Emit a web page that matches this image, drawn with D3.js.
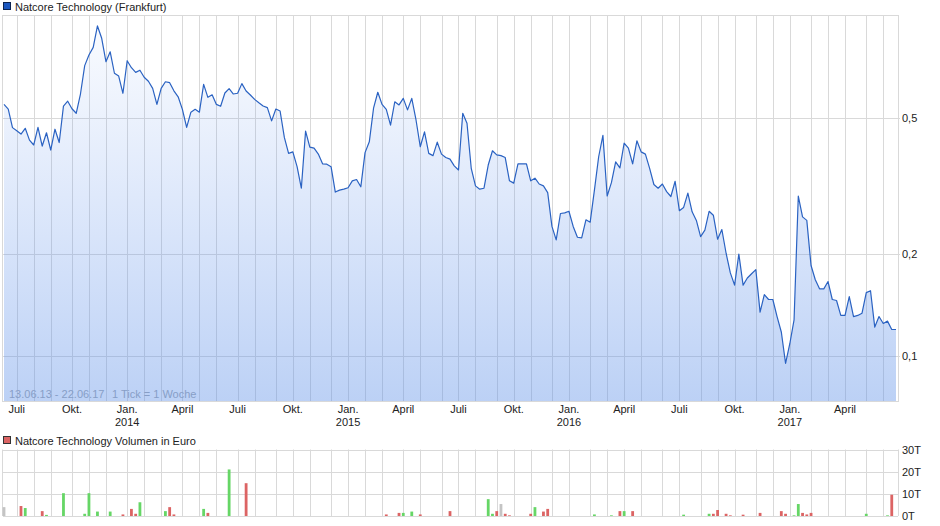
<!DOCTYPE html>
<html>
<head>
<meta charset="utf-8">
<script src="https://cdn.jsdelivr.net/npm/d3@7"></script>
<style>
  html, body { margin: 0; padding: 0; background: #fff; }
  svg { display: block; font-family: "Liberation Sans", Arial, sans-serif; }
</style>
</head>
<body>
<svg id="chart" width="940" height="526"></svg>
<script>
// ---------- DATA ----------
const seriesName = "Natcore Technology (Frankfurt)";
const volumeName = "Natcore Technology Volumen in Euro";
const rangeText = "13.06.13 - 22.06.17";
const tickText = "1 Tick = 1 Woche";
const firstWeek = "2013-06-13"; // weekly points (1 Tick = 1 Woche)

// weekly closing prices (EUR)
const prices = [
  0.550, 0.533, 0.470, 0.460, 0.450, 0.468, 0.432, 0.418, 0.471, 0.415,
  0.454, 0.404, 0.465, 0.425, 0.544, 0.562, 0.534, 0.518, 0.590, 0.715,
  0.768, 0.809, 0.935, 0.860, 0.734, 0.785, 0.679, 0.666, 0.593, 0.739,
  0.705, 0.683, 0.693, 0.661, 0.643, 0.613, 0.550, 0.613, 0.641, 0.637,
  0.603, 0.579, 0.532, 0.471, 0.522, 0.532, 0.522, 0.630, 0.577, 0.587,
  0.550, 0.543, 0.594, 0.612, 0.590, 0.593, 0.633, 0.602, 0.586, 0.569,
  0.556, 0.544, 0.538, 0.492, 0.533, 0.526, 0.440, 0.395, 0.399, 0.361,
  0.312, 0.459, 0.412, 0.409, 0.393, 0.368, 0.367, 0.361, 0.304, 0.308,
  0.310, 0.313, 0.328, 0.331, 0.315, 0.397, 0.427, 0.536, 0.597, 0.550,
  0.532, 0.478, 0.560, 0.548, 0.573, 0.530, 0.573, 0.495, 0.413, 0.457,
  0.395, 0.389, 0.426, 0.393, 0.384, 0.380, 0.363, 0.353, 0.518, 0.484,
  0.357, 0.317, 0.310, 0.312, 0.365, 0.402, 0.391, 0.389, 0.384, 0.328,
  0.323, 0.368, 0.368, 0.368, 0.328, 0.334, 0.321, 0.317, 0.303, 0.241,
  0.220, 0.263, 0.264, 0.267, 0.241, 0.224, 0.223, 0.252, 0.248, 0.308,
  0.386, 0.446, 0.296, 0.324, 0.373, 0.358, 0.423, 0.409, 0.368, 0.430,
  0.399, 0.393, 0.357, 0.320, 0.312, 0.321, 0.305, 0.295, 0.327, 0.268,
  0.274, 0.302, 0.266, 0.251, 0.225, 0.235, 0.267, 0.260, 0.221, 0.236,
  0.201, 0.176, 0.162, 0.200, 0.162, 0.170, 0.175, 0.180, 0.135, 0.152,
  0.147, 0.147, 0.131, 0.118, 0.0955, 0.109, 0.128, 0.296, 0.257, 0.251,
  0.185, 0.168, 0.158, 0.158, 0.166, 0.147, 0.146, 0.132, 0.132, 0.150,
  0.131, 0.132, 0.134, 0.154, 0.156, 0.122, 0.131, 0.125, 0.127, 0.120,
  0.120
];

// volume bars: week index, volume (thousand EUR), direction
const volWeek = [0, 4, 5, 9, 10, 14, 19, 20, 22, 25, 28, 30, 31, 32, 38, 39, 40, 47, 48, 53, 57,
  90, 93, 94, 96, 98, 105, 114, 115, 116, 117, 118, 119, 124, 125, 127, 128,
  139, 143, 145, 146, 148, 160, 166, 167, 168, 170, 171, 174, 178, 183, 184,
  186, 187, 188, 189, 190, 203, 208, 209];
const volValue = [4.0, 4.5, 3.6, 2.2, 0.5, 10.3, 1.0, 10.3, 2.0, 2.0, 0.7, 3.2, 1.0, 6.2, 2.2, 4.0, 0.7, 3.2, 1.4, 21.0, 14.8,
  0.7, 1.4, 1.4, 2.0, 0.7, 2.2, 7.6, 1.0, 2.2, 5.4, 1.0, 0.3, 1.0, 4.0, 2.0, 3.2,
  0.7, 0.3, 2.2, 2.2, 2.2, 0.6, 1.0, 1.0, 2.7, 1.0, 0.3, 0.6, 1.4, 2.2, 1.0,
  0.3, 5.4, 1.4, 0.7, 1.4, 1.0, 0.3, 9.6];
const volDir = ["f", "d", "u", "d", "u", "u", "u", "u", "u", "u", "d", "d", "d", "u", "u", "d", "d", "u", "d", "u", "d",
  "d", "d", "u", "u", "d", "d", "u", "u", "d", "f", "d", "d", "d", "u", "d", "d",
  "u", "u", "d", "u", "d", "u", "u", "d", "d", "d", "d", "d", "d", "d", "d",
  "u", "u", "d", "d", "d", "u", "u", "d"];

const priceTicks = [0.1, 0.2, 0.5];
const priceTickLabels = ["0,1", "0,2", "0,5"];
const volTicks = [0, 10, 20, 30];
const volTickLabels = ["0T", "10T", "20T", "30T"];
const quarterLabels = { 0: "Jan.", 3: "April", 6: "Juli", 9: "Okt." };
const firstMonth = [2013, 6];  // July 2013 (month index 6)
const lastMonth = [2017, 5];   // June 2017

// ---------- LAYOUT ----------
const svg = d3.select("#chart");
const L = 3, R = 898;
const mainTop = 16, mainBot = 401;
const volTop = 449.5, volBot = 516;
const gridColor = "#d9d9d9";
const font = "11px";

const x = d3.scaleLinear().domain([0, prices.length - 1]).range([4, 896]);
const y = d3.scaleLog().domain([0.074, 1.0]).range([mainBot, mainTop]);
const yv = d3.scaleLinear().domain([0, 30]).range([volBot, volTop]);

// month gridline positions (first weekly point of each month, week ending Sunday)
const DAY = 86400000;
const t0 = Date.parse(firstWeek + "T00:00:00Z");
const months = [];
for (let yr = firstMonth[0], m = firstMonth[1]; yr < lastMonth[0] || (yr === lastMonth[0] && m <= lastMonth[1]); ) {
  const ms = Date.UTC(yr, m, 1);
  const idx = Math.ceil((ms - 3 * DAY - t0) / (7 * DAY));
  months.push({ yr, m, idx });
  m++; if (m > 11) { m = 0; yr++; }
}

// ---------- DEFS ----------
const defs = svg.append("defs");
const grad = defs.append("linearGradient").attr("id", "fillGrad")
  .attr("gradientUnits", "userSpaceOnUse")
  .attr("x1", 0).attr("y1", mainTop).attr("x2", 0).attr("y2", mainBot);
grad.append("stop").attr("offset", "0%").attr("stop-color", "rgb(110,155,240)").attr("stop-opacity", 0.03);
grad.append("stop").attr("offset", "100%").attr("stop-color", "rgb(95,145,232)").attr("stop-opacity", 0.42);

// ---------- MAIN PANEL ----------
const g = svg.append("g");

// gridlines
g.selectAll("line.vg").data(months).enter().append("line")
  .attr("x1", d => Math.round(x(d.idx)) + 0.5).attr("x2", d => Math.round(x(d.idx)) + 0.5)
  .attr("y1", mainTop).attr("y2", mainBot)
  .attr("stroke", gridColor).attr("stroke-width", 1);
g.selectAll("line.hg").data(priceTicks).enter().append("line")
  .attr("x1", L).attr("x2", R + 2)
  .attr("y1", d => Math.round(y(d)) + 0.5).attr("y2", d => Math.round(y(d)) + 0.5)
  .attr("stroke", gridColor).attr("stroke-width", 1);

// frame
g.append("rect").attr("x", L - 0.5).attr("y", mainTop - 0.5)
  .attr("width", R - L + 1).attr("height", mainBot - mainTop + 1)
  .attr("fill", "none").attr("stroke", gridColor);

// range text (under the fill)
g.append("text").attr("x", 9).attr("y", 397.5).attr("font-size", font)
  .attr("fill", "#a3a7ae").text(rangeText);
g.append("text").attr("x", 112).attr("y", 397.5).attr("font-size", font)
  .attr("fill", "#a3a7ae").text(tickText);

// area + line
const area = d3.area().x((d, i) => x(i)).y0(mainBot).y1(d => y(d));
g.append("path").datum(prices).attr("d", area).attr("fill", "url(#fillGrad)");
const line = d3.line().x((d, i) => x(i)).y(d => y(d));
g.append("path").datum(prices).attr("d", line)
  .attr("fill", "none").attr("stroke", "#2a62c2").attr("stroke-width", 1.2)
  .attr("stroke-linejoin", "round");

// y labels
g.selectAll("text.yl").data(priceTicks).enter().append("text")
  .attr("x", 902).attr("y", d => y(d) + 4).attr("font-size", font).attr("fill", "#222")
  .text((d, i) => priceTickLabels[i]);

// x labels
const qm = months.filter(d => quarterLabels[d.m] !== undefined);
g.selectAll("text.xl").data(qm).enter().append("text")
  .attr("x", d => x(d.idx)).attr("y", 413).attr("text-anchor", "middle")
  .attr("font-size", font).attr("fill", "#222")
  .text(d => quarterLabels[d.m]);
g.selectAll("text.yr").data(qm.filter(d => d.m === 0)).enter().append("text")
  .attr("x", d => x(d.idx)).attr("y", 426).attr("text-anchor", "middle")
  .attr("font-size", font).attr("fill", "#222")
  .text(d => d.yr);

// legend 1
svg.append("rect").attr("x", 3.5).attr("y", 2.5).attr("width", 7).attr("height", 7)
  .attr("fill", "#1c58c0").attr("stroke", "#0d2450");
svg.append("text").attr("x", 15).attr("y", 10.5).attr("font-size", font).attr("fill", "#222")
  .text(seriesName);

// ---------- VOLUME PANEL ----------
const gv = svg.append("g");
gv.selectAll("line.vg").data(months).enter().append("line")
  .attr("x1", d => Math.round(x(d.idx)) + 0.5).attr("x2", d => Math.round(x(d.idx)) + 0.5)
  .attr("y1", volTop).attr("y2", volBot)
  .attr("stroke", gridColor);
gv.selectAll("line.hg").data(volTicks).enter().append("line")
  .attr("x1", L).attr("x2", R)
  .attr("y1", d => Math.round(yv(d)) + 0.5).attr("y2", d => Math.round(yv(d)) + 0.5)
  .attr("stroke", gridColor);
gv.append("line").attr("x1", L - 0.5).attr("x2", L - 0.5).attr("y1", volTop).attr("y2", volBot).attr("stroke", gridColor);
gv.append("line").attr("x1", R + 0.5).attr("x2", R + 0.5).attr("y1", volTop).attr("y2", volBot).attr("stroke", gridColor);

const dirColor = { u: "#66d666", d: "#dc6464", f: "#c4c4c4" };
gv.selectAll("rect.bar").data(volWeek).enter().append("rect")
  .attr("x", d => x(d) - 1.4).attr("width", 2.8)
  .attr("y", (d, i) => yv(volValue[i]))
  .attr("height", (d, i) => yv(0) - yv(volValue[i]))
  .attr("fill", (d, i) => dirColor[volDir[i]]);

gv.selectAll("text.vl").data(volTicks).enter().append("text")
  .attr("x", 902).attr("y", d => yv(d) + 4).attr("font-size", font).attr("fill", "#222")
  .text((d, i) => volTickLabels[i]);

svg.append("rect").attr("x", 3.5).attr("y", 436.5).attr("width", 7).attr("height", 7)
  .attr("fill", "#dc6464").attr("stroke", "#333");
svg.append("text").attr("x", 15).attr("y", 444.5).attr("font-size", font).attr("fill", "#222")
  .text(volumeName);
</script>
</body>
</html>
